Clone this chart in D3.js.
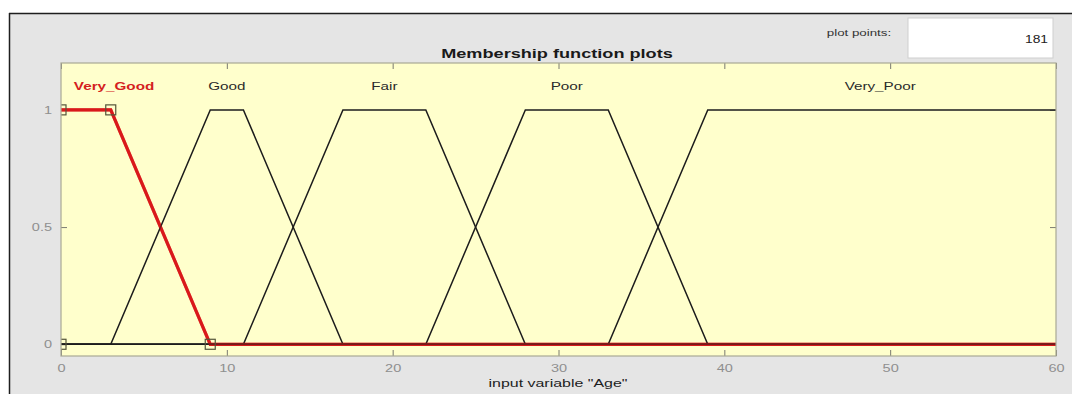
<!DOCTYPE html>
<html>
<head>
<meta charset="utf-8">
<script src="https://cdn.jsdelivr.net/npm/d3@7"></script>
<style>
  html, body { margin: 0; padding: 0; background: #ffffff; }
  svg { display: block; }
  text { font-family: "Liberation Sans", Arial, sans-serif; }
</style>
</head>
<body>
<svg id="chart" width="1072" height="394"></svg>
<script>
// ---- data ----
const mfNames = ["Very_Good", "Good", "Fair", "Poor", "Very_Poor"];
const mfParams = [            // trapmf [a b c d]
  [0, 0, 3, 9],
  [3, 9, 11, 17],
  [11, 17, 22, 28],
  [22, 28, 33, 39],
  [33, 39, 60, 60]
];
const labelX = [3.2, 10, 19.5, 30.5, 49.4];
const selectedIndex = 0;
const xDomain = [0, 60];
const yDomain = [-0.05, 1.2];
const xTicks = [0, 10, 20, 30, 40, 50, 60];
const yTicks = [0, 0.5, 1];
const yTickLabels = ["0", "0.5", "1"];
const titleText = "Membership function plots";
const xLabelText = 'input variable "Age"';
const plotPointsLabel = "plot points:";
const plotPointsValue = "181";

// ---- layout ----
const svg = d3.select("#chart");
const W = 1072, H = 394;
const plot = { left: 61, right: 1056, top: 63, bottom: 356 };
const STRETCH = 1.45;

const x = d3.scaleLinear().domain(xDomain).range([plot.left, plot.right]);
const y = d3.scaleLinear().domain(yDomain).range([plot.bottom, plot.top]);

function stretch(sel, f) {
  sel.each(function () {
    const w = this.getComputedTextLength();
    d3.select(this).attr("textLength", w * (f || STRETCH)).attr("lengthAdjust", "spacingAndGlyphs");
  });
}

// background panel
svg.append("rect").attr("x", 0).attr("y", 0).attr("width", W).attr("height", H).attr("fill", "#ffffff");
svg.append("rect").attr("x", 9).attr("y", 13).attr("width", W - 9).attr("height", H - 13).attr("fill", "#e5e5e5");
svg.append("line").attr("x1", 9).attr("x2", W).attr("y1", 13.5).attr("y2", 13.5).attr("stroke", "#1e1e1e").attr("stroke-width", 1.5);
svg.append("line").attr("x1", 9.5).attr("x2", 9.5).attr("y1", 13).attr("y2", H).attr("stroke", "#1e1e1e").attr("stroke-width", 1.5);

// plot points box
svg.append("rect").attr("x", 908).attr("y", 18).attr("width", 145).attr("height", 40)
  .attr("fill", "#ffffff").attr("stroke", "#cfcfcf").attr("stroke-width", 1);
svg.append("text").attr("x", 1048).attr("y", 43).attr("text-anchor", "end")
  .attr("font-size", 11.5).attr("fill", "#222").text(plotPointsValue).call(stretch, 1.2);
svg.append("text").attr("x", 859).attr("y", 36).attr("text-anchor", "middle")
  .attr("font-size", 9.5).attr("fill", "#333").text(plotPointsLabel).call(stretch, 1.4);

// title
svg.append("text").attr("x", 557).attr("y", 58).attr("text-anchor", "middle")
  .attr("font-size", 12.5).attr("font-weight", "bold").attr("fill", "#1a1a1a")
  .text(titleText).call(stretch);

// plot area background
svg.append("rect").attr("x", plot.left).attr("y", plot.top)
  .attr("width", plot.right - plot.left).attr("height", plot.bottom - plot.top)
  .attr("fill", "#ffffcc");

svg.append("defs").append("clipPath").attr("id", "clip")
  .append("rect").attr("x", plot.left).attr("y", plot.top)
  .attr("width", plot.right - plot.left).attr("height", plot.bottom - plot.top);

// axes (inward ticks)
const tickColor = "#7a7a70";
const axB = svg.append("g").attr("transform", `translate(0,${plot.bottom})`)
  .call(d3.axisBottom(x).tickValues(xTicks).tickSize(-6).tickPadding(9).tickFormat(d3.format("d")));
const axT = svg.append("g").attr("transform", `translate(0,${plot.top})`)
  .call(d3.axisTop(x).tickValues(xTicks).tickSize(-6).tickFormat(""));
const axL = svg.append("g").attr("transform", `translate(${plot.left},0)`)
  .call(d3.axisLeft(y).tickValues(yTicks).tickSize(-6).tickPadding(9).tickFormat((d, i) => yTickLabels[i]));
const axR = svg.append("g").attr("transform", `translate(${plot.right},0)`)
  .call(d3.axisRight(y).tickValues(yTicks).tickSize(-6).tickFormat(""));
[axB, axT, axL, axR].forEach(g => {
  g.select(".domain").remove();
  g.selectAll(".tick line").attr("stroke", tickColor).attr("stroke-width", 1);
  g.selectAll(".tick text").attr("fill", "#8f8f8f").attr("font-size", 10)
    .attr("font-family", '"Liberation Sans", Arial, sans-serif');
});
axB.selectAll(".tick text").call(stretch);
axL.selectAll(".tick text").call(stretch);

// membership function polylines (trapezoid vertices, extended along 0 to the domain edges)
function mfVertices(p) {
  const [a, b, c, d] = p;
  const pts = [];
  if (a > xDomain[0]) pts.push([xDomain[0], 0]);
  if (!(a === b && a === xDomain[0])) pts.push([a, 0]);
  pts.push([b, 1], [c, 1]);
  if (!(c === d && d === xDomain[1])) pts.push([d, 0]);
  if (d < xDomain[1]) pts.push([xDomain[1], 0]);
  return pts;
}
const line = d3.line().x(d => x(d[0])).y(d => y(d[1]));
const gLines = svg.append("g").attr("clip-path", "url(#clip)");
const selPts = mfVertices(mfParams[selectedIndex]);

// selected (red, thick)
gLines.append("path").datum(selPts)
  .attr("d", line).attr("fill", "none").attr("stroke", "#e3191c").attr("stroke-width", 3.2)
  .attr("stroke-linejoin", "miter");

mfParams.forEach((p, i) => {
  if (i === selectedIndex) return;
  gLines.append("path").datum(mfVertices(p))
    .attr("d", line).attr("fill", "none").attr("stroke", "#1c1c1c").attr("stroke-width", 1.5);
});
// translucent red over the black lines so shared segments read as dark red
gLines.append("path").datum(selPts)
  .attr("d", line).attr("fill", "none").attr("stroke", "#d01a1a").attr("stroke-opacity", 0.5)
  .attr("stroke-width", 3.2);

// vertex markers of selected mf
const sp = mfParams[selectedIndex];
const markers = [[sp[0], 0], [sp[1], 1], [sp[2], 1], [sp[3], 0]];
gLines.selectAll("rect.marker").data(markers).join("rect").attr("class", "marker")
  .attr("x", d => x(d[0]) - 5).attr("y", d => y(d[1]) - 5)
  .attr("width", 10).attr("height", 10)
  .attr("fill", "none").attr("stroke", "#55553a").attr("stroke-width", 1.2);

// mf labels
svg.append("g").selectAll("text").data(mfNames).join("text")
  .attr("x", (d, i) => x(labelX[i])).attr("y", y(1.1)).attr("dy", "0.35em")
  .attr("text-anchor", "middle").attr("font-size", 10.5)
  .attr("font-weight", (d, i) => i === selectedIndex ? "bold" : "normal")
  .attr("fill", (d, i) => i === selectedIndex ? "#d42020" : "#2a2a2a")
  .text(d => d).call(stretch);

// plot frame
svg.append("rect").attr("x", plot.left).attr("y", plot.top)
  .attr("width", plot.right - plot.left).attr("height", plot.bottom - plot.top)
  .attr("fill", "none").attr("stroke", "#a9a994").attr("stroke-width", 1.2);

// x label
svg.append("text").attr("x", 558).attr("y", 387).attr("text-anchor", "middle")
  .attr("font-size", 11).attr("fill", "#1e1e1e").text(xLabelText).call(stretch);
</script>
</body>
</html>
